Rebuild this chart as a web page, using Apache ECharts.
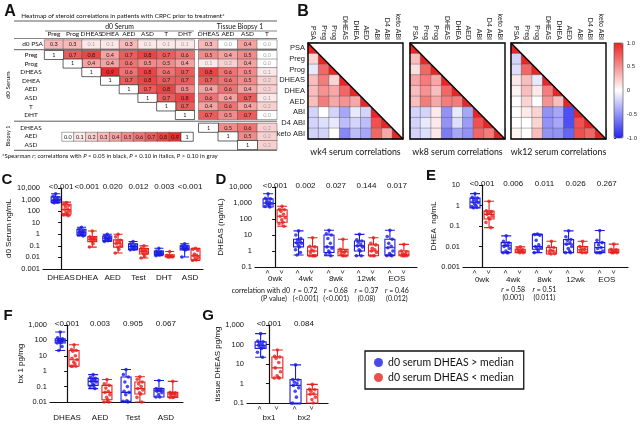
<!DOCTYPE html>
<html>
<head>
<meta charset="utf-8">
<script src="https://cdn.jsdelivr.net/npm/echarts@6.0.0/dist/echarts.min.js"></script>
<style>
  html, body { margin: 0; padding: 0; background: #fff; }
  #chart { width: 640px; height: 424px; }
</style>
</head>
<body>
<div id="chart"></div>
<script>
// ---------- A: d0 correlation table ----------
const serumCols = ['Preg', 'Prog', 'DHEAS', 'DHEA', 'AED', 'ASD', 'T', 'DHT'];
const tissueCols = ['DHEAS', 'AED', 'ASD', 'T'];
const serumRows = ['Preg', 'Prog', 'DHEAS', 'DHEA', 'AED', 'ASD', 'T', 'DHT'];
const biopsyRows = ['DHEAS', 'AED', 'ASD'];
const psaSerum = [[0.3, 0.3, 0.1, 0.1, 0.3, 0.1, 0.1, 0.1]];
const psaTissue = [[0.3, 0.0, 0.4, 0.0]];
const serumSerum = [
  [1, 0.7, 0.8, 0.4, 0.7, 0.8, 0.7, 0.6],
  [null, 1, 0.4, 0.4, 0.6, 0.5, 0.5, 0.4],
  [null, null, 1, 0.9, 0.6, 0.8, 0.6, 0.7],
  [null, null, null, 1, 0.7, 0.8, 0.7, 0.7],
  [null, null, null, null, 1, 0.7, 0.8, 0.5],
  [null, null, null, null, null, 1, 0.7, 0.8],
  [null, null, null, null, null, null, 1, 0.7],
  [null, null, null, null, null, null, null, 1]
];
const serumTissue = [
  [0.5, 0.4, 0.5, 0.0],
  [0.1, 0.2, 0.4, 0.0],
  [0.8, 0.6, 0.5, 0.1],
  [0.7, 0.6, 0.5, 0.2],
  [0.4, 0.6, 0.4, 0.2],
  [0.6, 0.4, 0.7, 0.1],
  [0.4, 0.6, 0.4, 0.2],
  [0.7, 0.5, 0.7, 0.0]
];
const biopsyTissue = [
  [1, 0.5, 0.6, 0.2],
  [null, 1, 0.5, 0.2],
  [null, null, 1, 0.2]
];
// cells with P > 0.10 (grey text), as [row, col]
const grayPsaSerum = [[0, 2], [0, 3], [0, 5], [0, 6], [0, 7]];
const grayPsaTissue = [[0, 1], [0, 3]];
const graySerumTissue = [[1, 0], [1, 1], [0, 3], [1, 3], [2, 3], [3, 3], [4, 3], [5, 3], [6, 3], [7, 3]];
const grayBiopsyTissue = [[0, 3], [1, 3], [2, 3]];
const scaleSteps = [0.0, 0.1, 0.2, 0.3, 0.4, 0.5, 0.6, 0.7, 0.8, 0.9, 1.0];

// ---------- B: on-treatment correlation triangles ----------
const bVars = ['PSA', 'Preg', 'Prog', 'DHEAS', 'DHEA', 'AED', 'ABI', 'D4 ABI', 'keto ABI'];
const bTitles = ['wk4 serum correlations', 'wk8 serum correlations', 'wk12 serum correlations'];
const wk4Corr = [
  [],
  [0.2],
  [-0.1, 0.7],
  [0.3, 0.6, 0.2],
  [0.3, 0.5, 0.4, 0.7],
  [0.3, 0.6, 0.4, 0.5, 0.4],
  [-0.2, 0.0, -0.2, -0.4, -0.1, -0.2],
  [-0.2, -0.15, -0.1, -0.3, -0.2, -0.3, 0.8],
  [-0.2, -0.2, 0.0, -0.55, -0.3, -0.4, 0.7, 0.4]
];
const wk8Corr = [
  [],
  [0.3],
  [0.15, 0.7],
  [0.4, 0.6, 0.4],
  [0.3, 0.5, 0.3, 0.7],
  [0.3, 0.6, 0.4, 0.6, 0.6],
  [-0.2, -0.2, 0.1, -0.5, -0.1, -0.4],
  [-0.2, -0.1, 0.1, -0.5, -0.15, -0.45, 0.8],
  [-0.2, -0.15, 0.1, -0.6, -0.4, -0.5, 0.7, 0.6]
];
const wk12Corr = [
  [],
  [-0.2],
  [-0.15, 0.7],
  [0.1, 0.3, -0.1],
  [0.05, 0.3, 0.1, 0.6],
  [0.0, 0.2, 0.0, 0.5, 0.3],
  [0.0, 0.1, 0.2, -0.5, -0.4, -0.8],
  [0.0, 0.0, 0.2, -0.5, -0.4, -0.8, 0.8],
  [0.05, 0.0, 0.3, -0.5, -0.5, -0.7, 0.8, 0.7]
];

// ---------- C: d0 serum steroids ----------
const cGroups = ['DHEAS', 'DHEA', 'AED', 'Test', 'DHT', 'ASD'];
const cP = ['<0.001', '<0.001', '0.020', '0.012', '0.003', '<0.001'];
const cBoxHi = [[500, 560, 870, 1700, 3200], [0.72, 0.87, 1.5, 2.7, 4], [0.24, 0.27, 0.45, 0.72, 1.0],
  [0.045, 0.05, 0.088, 0.15, 0.24], [0.014, 0.017, 0.024, 0.035, 0.063], [0.011, 0.045, 0.063, 0.1, 0.15]];
const cBoxLo = [[40, 55, 140, 400, 600], [0.077, 0.23, 0.37, 0.63, 1.9], [0.024, 0.077, 0.17, 0.33, 1.0],
  [0.0088, 0.02, 0.035, 0.059, 0.1], [0.011, 0.011, 0.012, 0.017, 0.033], [0.0055, 0.006, 0.014, 0.055, 0.063]];
const cPtsHi = [
  [3200, 2000, 1500, 1200, 1000, 900, 850, 800, 700, 650, 600, 520],
  [4, 2.7, 2.2, 1.8, 1.6, 1.5, 1.3, 1.1, 1.0, 0.9, 0.72],
  [1.0, 0.7, 0.6, 0.5, 0.45, 0.42, 0.35, 0.3, 0.28, 0.24],
  [0.24, 0.15, 0.12, 0.1, 0.09, 0.085, 0.07, 0.06, 0.05, 0.045],
  [0.063, 0.035, 0.03, 0.025, 0.024, 0.022, 0.02, 0.018, 0.016, 0.014],
  [0.15, 0.1, 0.09, 0.07, 0.065, 0.06, 0.055, 0.05, 0.045, 0.011]
];
const cPtsLo = [
  [550, 400, 300, 250, 150, 130, 100, 80, 60, 50, 40],
  [1.9, 0.6, 0.5, 0.45, 0.4, 0.35, 0.3, 0.25, 0.15, 0.08],
  [1.0, 0.6, 0.3, 0.25, 0.18, 0.15, 0.1, 0.08, 0.05, 0.024],
  [0.1, 0.06, 0.05, 0.04, 0.035, 0.03, 0.022, 0.02, 0.012, 0.0088],
  [0.033, 0.015, 0.013, 0.012, 0.012, 0.011, 0.011, 0.011],
  [0.063, 0.05, 0.04, 0.02, 0.015, 0.014, 0.01, 0.008, 0.006, 0.0055]
];

// ---------- D: serum DHEAS over time ----------
const dGroups = ['0wk', '4wk', '8wk', '12wk', 'EOS'];
const dP = ['<0.001', '0.002', '0.027', '0.144', '0.017'];
const dR = [null, '0.72', '0.68', '0.37', '0.46'];
const dRp = [null, '(<0.001)', '(<0.001)', '(0.08)', '(0.012)'];
const dBoxHi = [[560, 560, 1000, 1800, 3800], [0.56, 1.8, 3.3, 5.4, 18], [0.5, 0.8, 1.8, 10, 20],
  [0.5, 1.0, 2.1, 4.2, 11], [0.5, 0.55, 1.6, 5.4, 20]];
const dBoxLo = [[35, 62, 150, 380, 620], [0.5, 0.5, 1.0, 1.8, 6.8], [0.5, 0.5, 0.9, 1.27, 5.4],
  [0.5, 0.5, 1.0, 2.4, 6.8], [0.5, 0.5, 0.62, 1.0, 2.6]];
const dPtsHi = [
  [3800, 2000, 1800, 1400, 1100, 1000, 900, 800, 700, 600, 560],
  [18, 10, 6, 5, 4, 3.3, 3, 2.5, 1.8, 1.2, 0.8, 0.56],
  [20, 12, 10, 6, 3, 1.8, 1.5, 1.0, 0.8, 0.6, 0.5],
  [11, 5, 4.2, 3.5, 2.5, 2.1, 1.8, 1.2, 1.0, 0.5, 0.5],
  [20, 8, 5.4, 3, 2, 1.6, 1.0, 0.7, 0.55, 0.5, 0.5]
];
const dPtsLo = [
  [620, 400, 380, 300, 200, 150, 120, 90, 62, 50, 35],
  [6.8, 2, 1.8, 1.2, 1.0, 0.8, 0.5, 0.5, 0.5, 0.5, 0.5],
  [5.4, 1.27, 1.0, 0.9, 0.8, 0.6, 0.5, 0.5, 0.5],
  [6.8, 3, 2.4, 1.5, 1.2, 1.0, 0.8, 0.5, 0.5, 0.5],
  [2.6, 1.0, 0.9, 0.7, 0.62, 0.5, 0.5, 0.5, 0.5]
];

// ---------- E: serum DHEA over time ----------
const eGroups = ['0wk', '4wk', '8wk', '12wk', 'EOS'];
const eP = ['<0.001', '0.006', '0.011', '0.026', '0.267'];
const eR = [null, '0.58', '0.51', null, null];
const eRp = [null, '(0.001)', '(0.011)', null, null];
const eBoxHi = [[0.77, 0.77, 1.45, 2.3, 3.8], [0.005, 0.0051, 0.0108, 0.0155, 0.033], [0.005, 0.0074, 0.01, 0.038, 0.04],
  [0.005, 0.005, 0.013, 0.022, 0.058], [0.005, 0.005, 0.009, 0.0155, 0.06]];
const eBoxLo = [[0.083, 0.22, 0.37, 0.53, 1.6], [0.005, 0.005, 0.006, 0.0074, 0.0096], [0.0043, 0.0043, 0.006, 0.009, 0.018],
  [0.005, 0.005, 0.007, 0.01, 0.018], [0.005, 0.005, 0.006, 0.0074, 0.013]];
const ePtsHi = [
  [3.8, 2.5, 2.3, 2.0, 1.7, 1.5, 1.4, 1.2, 1.0, 0.9, 0.8, 0.77],
  [0.033, 0.018, 0.015, 0.012, 0.011, 0.01, 0.008, 0.006, 0.005, 0.005, 0.005],
  [0.04, 0.038, 0.035, 0.02, 0.012, 0.01, 0.009, 0.008, 0.006, 0.005],
  [0.058, 0.03, 0.022, 0.02, 0.015, 0.013, 0.01, 0.008, 0.006, 0.005, 0.005],
  [0.06, 0.02, 0.0155, 0.012, 0.009, 0.008, 0.006, 0.005, 0.005, 0.005]
];
const ePtsLo = [
  [1.6, 0.55, 0.5, 0.45, 0.4, 0.37, 0.3, 0.25, 0.22, 0.15, 0.083],
  [0.0096, 0.008, 0.007, 0.006, 0.006, 0.0055, 0.005, 0.005],
  [0.018, 0.01, 0.009, 0.007, 0.006, 0.005, 0.0045, 0.0043],
  [0.018, 0.01, 0.009, 0.008, 0.007, 0.006, 0.005, 0.005],
  [0.013, 0.0074, 0.007, 0.006, 0.006, 0.005, 0.005, 0.005]
];

// ---------- F: biopsy 1 tissue steroids ----------
const fGroups = ['DHEAS', 'AED', 'Test', 'ASD'];
const fP = ['<0.001', '0.003', '0.905', '0.067'];
const fBoxHi = [[22, 68, 95, 125, 350], [0.074, 0.12, 0.22, 0.34, 0.6], [0.01, 0.011, 0.042, 0.42, 1.28], [0.021, 0.021, 0.053, 0.074, 0.25]];
const fBoxLo = [[2.1, 2.1, 5.6, 22, 52], [0.01, 0.014, 0.042, 0.12, 0.29], [0.01, 0.033, 0.074, 0.2, 0.44], [0.02, 0.02, 0.033, 0.042, 0.22]];
const fPtsHi = [
  [350, 150, 125, 110, 100, 95, 90, 80, 70, 68, 40, 22],
  [0.6, 0.4, 0.34, 0.3, 0.25, 0.22, 0.2, 0.15, 0.12, 0.1, 0.074],
  [1.28, 0.6, 0.42, 0.2, 0.1, 0.05, 0.042, 0.03, 0.012, 0.011, 0.01],
  [0.25, 0.074, 0.07, 0.06, 0.053, 0.05, 0.04, 0.03, 0.021, 0.021]
];
const fPtsLo = [
  [52, 25, 22, 20, 10, 7, 5.6, 4, 3, 2.1, 2.1, 2.1],
  [0.29, 0.15, 0.12, 0.08, 0.05, 0.042, 0.03, 0.02, 0.014, 0.01, 0.01],
  [0.44, 0.3, 0.2, 0.15, 0.1, 0.074, 0.06, 0.04, 0.033, 0.02, 0.01],
  [0.22, 0.042, 0.04, 0.035, 0.033, 0.03, 0.025, 0.02, 0.02, 0.02]
];

// ---------- G: tissue DHEAS, biopsy 1 vs 2 ----------
const gGroups = ['bx1', 'bx2'];
const gP = ['<0.001', '0.084'];
const gBoxHi = [[22, 63, 92, 137, 360], [0.09, 0.1, 0.8, 1.6, 9]];
const gBoxLo = [[1.9, 1.9, 6.3, 23, 52], [0.1, 0.1, 0.28, 0.5, 0.9]];
const gPtsHi = [
  [360, 150, 137, 120, 100, 92, 80, 70, 63, 40, 22],
  [9, 1.6, 1.5, 1.2, 1.0, 0.8, 0.6, 0.4, 0.2, 0.1, 0.09]
];
const gPtsLo = [
  [52, 25, 23, 20, 12, 6.3, 4, 2.5, 2, 1.9, 1.9],
  [0.9, 0.5, 0.48, 0.4, 0.3, 0.28, 0.2, 0.15, 0.1]
];

const BLUE = '#1c1ce4';
const RED = '#e6221e';
const NAME_HI = 'd0 serum DHEAS > median';
const NAME_LO = 'd0 serum DHEAS < median';
const FONT = '"Liberation Sans", Arial, sans-serif';
const FONT_C = 'Lato, "Open Sans", sans-serif';

const option = {
  animation: false,
  backgroundColor: '#fff',
  grid: [], xAxis: [], yAxis: [], series: [], visualMap: [], graphic: []
};
const aColored = [];
const bSeries = [];

const txt = (x, y, text, extra, style) => Object.assign({
  type: 'text', x, y, z: 120,
  style: Object.assign({
    text, fontSize: 8, fontFamily: FONT, fill: '#111',
    textAlign: 'center', textVerticalAlign: 'middle', align: 'center', verticalAlign: 'middle'
  }, style || {})
}, extra || {});
const hline = (x1, x2, y, w) => ({type: 'line', z: 110, shape: {x1, y1: y, x2, y2: y}, style: {stroke: '#333', lineWidth: w || 0.8}});

// heatmap block of panel A
function aBlock(gridOpt, xCats, yCats, matrix, gray, xOpt, yOpt) {
  const gi = option.grid.push(gridOpt) - 1;
  const xi = option.xAxis.push(Object.assign({
    type: 'category', gridIndex: gi, data: xCats,
    axisLine: {show: false}, axisTick: {show: false}, axisLabel: {show: false}
  }, xOpt || {})) - 1;
  const yi = option.yAxis.push(Object.assign({
    type: 'category', gridIndex: gi, data: yCats, inverse: true,
    axisLine: {show: false}, axisTick: {show: false}, axisLabel: {show: false}
  }, yOpt || {})) - 1;
  const colored = [];
  const diag = [];
  matrix.forEach((row, r) => row.forEach((v, c) => {
    if (v === null) return;
    if (v === 1) { diag.push([c, r, v]); return; }
    const isGray = gray.some(g => g[0] === r && g[1] === c);
    colored.push(isGray ? {value: [c, r, v], label: {color: '#a5a5a5'}} : [c, r, v]);
  }));
  const label = {
    show: true, fontSize: 5.5, fontFamily: FONT_C, color: '#1a1a1a',
    formatter: p => (p.value[2] === 1 ? '1' : p.value[2].toFixed(1))
  };
  aColored.push(option.series.length);
  option.series.push({
    type: 'heatmap', xAxisIndex: xi, yAxisIndex: yi, data: colored, label,
    itemStyle: {borderColor: '#555', borderWidth: 0.5}
  });
  if (diag.length) {
    option.series.push({
      type: 'heatmap', xAxisIndex: xi, yAxisIndex: yi, data: diag, label,
      itemStyle: {color: '#fff', borderColor: '#222', borderWidth: 0.7}
    });
  }
}

const colTop = {show: true, position: 'top'};
const headLabel = {show: true, fontSize: 6.5, fontFamily: FONT_C, color: '#111', margin: 2.5, interval: 0};
const rowLabel = {show: true, fontSize: 6.5, fontFamily: FONT_C, color: '#111', align: 'center', interval: 0};

aBlock({left: 44.6, top: 40, width: 149.7, height: 8.6}, serumCols, ['d0 PSA'], psaSerum, grayPsaSerum,
  Object.assign({}, colTop, {axisLabel: headLabel}), {axisLabel: Object.assign({}, rowLabel, {margin: 12})});
aBlock({left: 198.75, top: 40, width: 78, height: 8.6}, tissueCols, ['d0 PSA'], psaTissue, grayPsaTissue,
  Object.assign({}, colTop, {axisLabel: headLabel}));
aBlock({left: 44.6, top: 50.7, width: 149.7, height: 68.6}, serumCols, serumRows, serumSerum, [],
  null, {axisLabel: Object.assign({}, rowLabel, {margin: 13.6})});
aBlock({left: 198.75, top: 50.7, width: 78, height: 68.6}, tissueCols, serumRows, serumTissue, graySerumTissue);
aBlock({left: 198.75, top: 123.4, width: 78, height: 26}, tissueCols, biopsyRows, biopsyTissue, grayBiopsyTissue,
  null, {axisLabel: Object.assign({}, rowLabel, {margin: 167.8})});
aBlock({left: 62, top: 132.5, width: 131, height: 8.5}, scaleSteps.map(String), [''], [scaleSteps], []);

option.visualMap.push({
  type: 'continuous', show: false, min: 0, max: 1, dimension: 2, seriesIndex: aColored,
  inRange: {color: ['#ffffff', '#e31616']}
});

option.graphic.push(
  txt(10, 12, 'A', null, {fontSize: 16, fontWeight: 'bold'}),
  txt(123, 16, 'Heatmap of steroid correlations in patients with CRPC prior to treatment*', null, {fontSize: 6.3, fontFamily: FONT_C}),
  hline(14, 277, 21),
  txt(119.5, 26.5, 'd0 Serum', null, {fontSize: 6.8, fontFamily: FONT_C}),
  txt(240, 26.5, 'Tissue Biopsy 1', null, {fontSize: 6.8, fontFamily: FONT_C}),
  hline(45, 194, 31, 0.6),
  hline(199, 277, 31, 0.6),
  hline(14, 277, 38.5, 0.6),
  hline(14, 277, 49.7, 0.8),
  hline(14, 277, 121.2, 0.8),
  hline(14, 277, 150.3, 0.8),
  txt(8, 85, 'd0 Serum', {rotation: Math.PI / 2}, {fontSize: 6.5, fontFamily: FONT_C}),
  txt(8, 136, 'Biopsy 1', {rotation: Math.PI / 2}, {fontSize: 5.5, fontFamily: FONT_C}),
  txt(2, 156, '*Spearman {i|r}; correlations with {i|P} < 0.05 in black, {i|P} < 0.10 in italics, {i|P} > 0.10 in gray', null,
    {fontSize: 6, fontFamily: FONT_C, textAlign: 'left', align: 'left',
      rich: {i: {fontStyle: 'italic', fontSize: 6, fontFamily: FONT_C}}})
);

// ---------- B ----------
const bLefts = [308, 410, 511];
const bTop = 43, bW = 95, bH = 96;
[wk4Corr, wk8Corr, wk12Corr].forEach((m, k) => {
  const gi = option.grid.push({left: bLefts[k], top: bTop, width: bW, height: bH}) - 1;
  const xi = option.xAxis.push({
    type: 'category', gridIndex: gi, data: bVars, position: 'top',
    axisLine: {show: false}, axisTick: {show: false},
    axisLabel: {rotate: 90, fontSize: 7, margin: 3, fontFamily: FONT, color: '#222', interval: 0}
  }) - 1;
  const yi = option.yAxis.push({
    type: 'category', gridIndex: gi, data: bVars, inverse: true,
    axisLine: {show: false}, axisTick: {show: false},
    axisLabel: {show: k === 0, fontSize: 7.5, margin: 3, fontFamily: FONT, color: '#222', interval: 0}
  }) - 1;
  const data = [];
  m.forEach((row, i) => {
    row.forEach((v, j) => data.push([j, i, v]));
    data.push([i, i, 1]);
  });
  bSeries.push(option.series.length);
  option.series.push({
    type: 'heatmap', xAxisIndex: xi, yAxisIndex: yi, data,
    itemStyle: {borderColor: '#555', borderWidth: 0.4}
  });
  const L = bLefts[k];
  option.graphic.push(
    {type: 'polygon', z: 100, shape: {points: [[L, bTop], [L + bW, bTop], [L + bW, bTop + bH]]}, style: {fill: '#fff'}},
    {type: 'line', z: 101, shape: {x1: L, y1: bTop, x2: L + bW, y2: bTop + bH}, style: {stroke: '#000', lineWidth: 1.4}},
    {type: 'rect', z: 101, shape: {x: L, y: bTop, width: bW, height: bH}, style: {fill: null, stroke: '#000', lineWidth: 1.4}},
    txt(L + bW / 2, 152, bTitles[k], null, {fontSize: 8.8, fontFamily: FONT_C})
  );
});
{
  const gi = option.grid.push({left: 614, top: bTop, width: 9, height: 95}) - 1;
  option.xAxis.push({type: 'value', gridIndex: gi, show: false, min: 0, max: 1});
  option.yAxis.push({
    type: 'value', gridIndex: gi, min: -1, max: 1, interval: 0.5, position: 'right',
    splitLine: {show: false}, axisLine: {show: false},
    axisTick: {show: true, length: 2, lineStyle: {color: '#333'}},
    axisLabel: {fontSize: 6, margin: 4, color: '#333', fontFamily: FONT, formatter: v => (v === 0 ? '0' : v.toFixed(1))}
  });
}
option.visualMap.push({
  type: 'continuous', min: -1, max: 1, dimension: 2, seriesIndex: bSeries,
  orient: 'vertical', left: 614, top: bTop, itemWidth: 9, itemHeight: 95, padding: 0, calculable: false,
  inRange: {color: ['#2424ef', '#ffffff', '#ec2424']}
});
option.graphic.push(
  txt(303, 12, 'B', null, {fontSize: 16, fontWeight: 'bold'}),
  {type: 'rect', z: 101, shape: {x: 614, y: bTop, width: 9, height: 95}, style: {fill: null, stroke: '#444', lineWidth: 0.6}}
);

// ---------- box panels C-G ----------
const jitter = [0, -0.8, 0.7, -0.35, 0.4, -0.6, 0.9, -0.1, 0.25, -0.9, 0.55, -0.45];
const axFont = {fontSize: 7.5, fontFamily: FONT, color: '#111'};

function boxPanel(p) {
  const gi = option.grid.push({left: p.left, top: p.top, width: p.width, height: p.height}) - 1;
  const base = {type: 'value', gridIndex: gi, min: p.xMin, max: p.xMax, splitLine: {show: false}, axisTick: {show: false}};
  const idx = p.groups.map((g, i) => i);
  const xBox = option.xAxis.push(Object.assign({}, base, {
    position: 'bottom',
    axisLine: {lineStyle: {color: '#111', width: 1.2}},
    axisLabel: p.marks
      ? Object.assign({customValues: idx.flatMap(i => [i - p.off, i + p.off]), rotate: 90, margin: 3,
          formatter: v => (v < Math.round(v) ? '>' : '<')}, axFont, {fontSize: 6.5})
      : Object.assign({customValues: idx, margin: p.nameMargin, formatter: v => p.groups[Math.round(v)]}, axFont, {fontSize: 8})
  })) - 1;
  if (p.marks) {
    option.xAxis.push(Object.assign({}, base, {
      position: 'bottom', axisLine: {show: false},
      axisLabel: Object.assign({customValues: idx, margin: p.nameMargin, formatter: v => p.groups[Math.round(v)]}, axFont, {fontSize: 8})
    }));
  }
  if (p.r) {
    option.xAxis.push(Object.assign({}, base, {
      position: 'bottom', axisLine: {show: false},
      axisLabel: {
        customValues: idx.filter(i => p.r[i]), margin: p.rMargin, lineHeight: 8,
        fontSize: 7, fontFamily: FONT_C, color: '#111',
        formatter: v => '{i|r} = ' + p.r[Math.round(v)] + '\n' + p.rp[Math.round(v)],
        rich: {i: {fontStyle: 'italic', fontSize: 7, fontFamily: FONT_C, color: '#111'}}
      }
    }));
  }
  option.xAxis.push(Object.assign({}, base, {
    position: 'top', axisLine: {show: false},
    axisLabel: Object.assign({customValues: idx, margin: 1, verticalAlign: 'middle', formatter: v => p.p[Math.round(v)]}, axFont, {fontSize: 8})
  }));
  const yi = option.yAxis.push({
    type: 'log', logBase: 10, gridIndex: gi, min: p.yMin, max: p.yMax, splitNumber: 12,
    splitLine: {show: false},
    axisLine: {show: true, lineStyle: {color: '#111', width: 1.2}},
    axisTick: {show: true, length: 3, lineStyle: {color: '#111'}},
    axisLabel: Object.assign({margin: 3}, axFont),
    name: p.yName, nameLocation: 'middle', nameGap: p.nameGap,
    nameTextStyle: {fontSize: 8, fontFamily: FONT, color: '#111'}
  }) - 1;
  const boxData = [];
  idx.forEach(i => {
    boxData.push({value: [i - p.off].concat(p.boxHi[i]), itemStyle: {borderColor: BLUE}});
    boxData.push({value: [i + p.off].concat(p.boxLo[i]), itemStyle: {borderColor: RED}});
  });
  option.series.push({
    type: 'boxplot', name: 'box' + gi, xAxisIndex: xBox, yAxisIndex: yi, boxWidth: [p.bw, p.bw],
    itemStyle: {color: '#fff', borderWidth: 1.1}, data: boxData, z: 3
  });
  [[p.ptsHi, -p.off, BLUE, NAME_HI], [p.ptsLo, p.off, RED, NAME_LO]].forEach(([pts, o, color, name]) => {
    const data = [];
    pts.forEach((list, i) => list.forEach((v, k) => data.push([i + o + jitter[k % jitter.length] * p.jit, v])));
    option.series.push({
      type: 'scatter', name, xAxisIndex: xBox, yAxisIndex: yi, data,
      symbolSize: 3.6, itemStyle: {color}, z: 4
    });
  });
}

boxPanel({left: 43, top: 188, width: 160, height: 81, xMin: -0.7, xMax: 5.5, off: 0.21, bw: 9, jit: 0.12,
  yMin: 0.001, yMax: 10000, yName: 'd0 Serum ng/mL', nameGap: 25, nameMargin: 5,
  groups: cGroups, p: cP, boxHi: cBoxHi, boxLo: cBoxLo, ptsHi: cPtsHi, ptsLo: cPtsLo});
boxPanel({left: 255, top: 187, width: 162, height: 80, xMin: -0.66, xMax: 4.66, off: 0.23, bw: 10, jit: 0.11,
  yMin: 0.1, yMax: 10000, yName: 'DHEAS (ng/mL)', nameGap: 27, marks: true, nameMargin: 8, rMargin: 20,
  groups: dGroups, p: dP, r: dR, rp: dRp, boxHi: dBoxHi, boxLo: dBoxLo, ptsHi: dPtsHi, ptsLo: dPtsLo});
boxPanel({left: 463, top: 185, width: 165, height: 82, xMin: -0.61, xMax: 4.68, off: 0.225, bw: 10, jit: 0.11,
  yMin: 0.001, yMax: 10, yName: 'DHEA  ng/mL', nameGap: 25, marks: true, nameMargin: 9, rMargin: 19,
  groups: eGroups, p: eP, r: eR, rp: eRp, boxHi: eBoxHi, boxLo: eBoxLo, ptsHi: ePtsHi, ptsLo: ePtsLo});
boxPanel({left: 50, top: 325, width: 133, height: 77, xMin: -0.52, xMax: 3.52, off: 0.21, bw: 10, jit: 0.1,
  yMin: 0.01, yMax: 1000, yName: 'bx 1 pg/mg', nameGap: 25, nameMargin: 12,
  groups: fGroups, p: fP, boxHi: fBoxHi, boxLo: fBoxLo, ptsHi: fPtsHi, ptsLo: fPtsLo});
boxPanel({left: 247, top: 325, width: 81, height: 78, xMin: -0.63, xMax: 1.69, off: 0.24, bw: 11, jit: 0.1,
  yMin: 0.1, yMax: 1000, yName: 'tissue DHEAS pg/mg', nameGap: 23, marks: true, nameMargin: 11,
  groups: gGroups, p: gP, boxHi: gBoxHi, boxLo: gBoxLo, ptsHi: gPtsHi, ptsLo: gPtsLo});

option.graphic.push(
  txt(7, 180, 'C', null, {fontSize: 15, fontWeight: 'bold'}),
  txt(221, 180, 'D', null, {fontSize: 15, fontWeight: 'bold'}),
  txt(431, 176, 'E', null, {fontSize: 15, fontWeight: 'bold'}),
  txt(8, 316, 'F', null, {fontSize: 15, fontWeight: 'bold'}),
  txt(208, 316, 'G', null, {fontSize: 15, fontWeight: 'bold'}),
  txt(290, 291, 'correlation with d0', null, {fontSize: 7, fontFamily: FONT_C, textAlign: 'right', align: 'right'}),
  txt(274, 299, '(P value)', null, {fontSize: 7, fontFamily: FONT_C})
);

option.legend = {
  orient: 'vertical', left: 365, top: 351,
  data: [{name: NAME_HI, icon: 'circle'}, {name: NAME_LO, icon: 'circle'}],
  borderColor: '#111', borderWidth: 1.3, padding: [6, 10, 6, 9], itemGap: 4,
  itemWidth: 9, itemHeight: 9, selectedMode: false,
  textStyle: {fontSize: 10.5, fontFamily: FONT_C, color: '#111'}
};

const chart = echarts.init(document.getElementById('chart'), null, {renderer: 'canvas'});
chart.setOption(option);
</script>
</body>
</html>
